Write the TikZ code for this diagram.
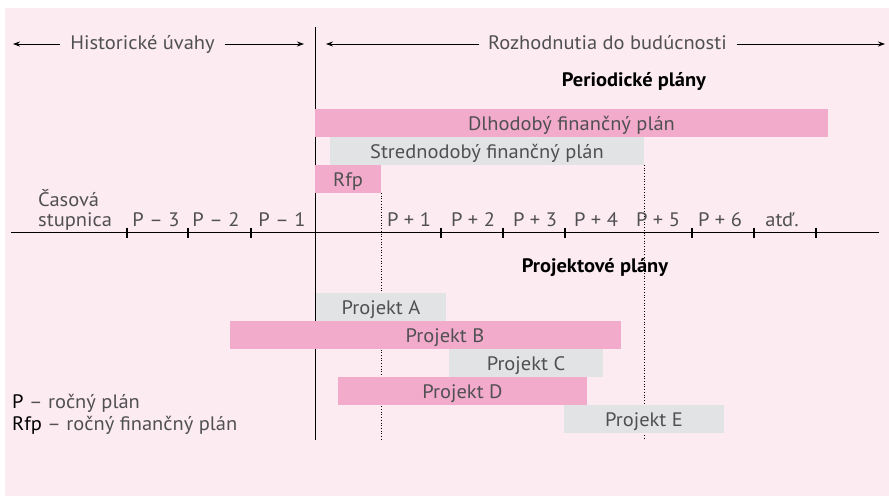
\documentclass[tikz,border=0pt]{standalone}
\usepackage{fontspec}
\setmainfont[FakeStretch=1.05]{PT Sans}
\usetikzlibrary{arrows.meta}
\definecolor{bgpink}{HTML}{FCEBF1}
\definecolor{barpink}{HTML}{F3ABCB}
\definecolor{bargray}{HTML}{E2E3E4}
\definecolor{txt}{HTML}{505052}
\begin{document}
\begin{tikzpicture}[x=1pt,y=-1pt,
  font=\fontsize{19.5}{21}\selectfont,
  lbl/.style={text=txt, inner sep=0pt},
  headline/.style={text=black, inner sep=0pt, font=\fontsize{19.5}{21}\selectfont\bfseries},
  bar/.style={inner sep=0pt, outer sep=0pt, minimum height=28pt, anchor=north west,
    text=txt, text height=16pt, text depth=1pt},
  pinkbar/.style={bar, fill=barpink},
  graybar/.style={bar, fill=bargray},
  span/.style={line width=0.8pt, -{Stealth[length=7pt,width=5pt]}},
  guide/.style={line width=0.9pt, dash pattern=on 0.9pt off 1.8pt},
  tick/.style={line width=1.2pt}
]
\useasboundingbox (0,0) rectangle (889,496);
\fill[bgpink] (5,8) rectangle (889,496);

% header arrows
\node[lbl, anchor=base] (hist) at (142.5,49) {Historické úvahy};
\node[lbl, anchor=base] (fut) at (607.5,49) {Rozhodnutia do budúcnosti};
\coordinate (hl) at (13,44);
\coordinate (hr) at (304,44);
\coordinate (fl) at (326,44);
\coordinate (fr) at (885,44);
\draw[span] (hist.west |- hl) ++(-10,0) -- (hl);
\draw[span] (hist.east |- hr) ++(10,0) -- (hr);
\draw[span] (fut.west |- fl) ++(-9,0) -- (fl);
\draw[span] (fut.east |- fr) ++(10,0) -- (fr);

% present
\draw[line width=0.9pt] (315,27) -- (315,440);

% periodic plans
\node[headline, anchor=base] (per) at (634,86) {Periodické plány};
\node[pinkbar, minimum width=513pt] (dlh) at (315,109) {Dlhodobý finančný plán};
\node[graybar, minimum width=314pt] (str) at (330,137) {Strednodobý finančný plán};
\node[pinkbar, minimum width=66pt] (rfp) at (315,165) {Rfp};

% guides
\draw[guide] (rfp.south east) -- (rfp.south east |- 0,440);
\draw[guide] (str.south east) -- (str.south east |- 0,440);

% time scale
\draw[line width=0.9pt] (11,232.5) -- (879,232.5);
\foreach \t in {127,188,251,441,503,565,692,754,816}
  \draw[tick] (\t,227.5) -- (\t,237.5);
\node[lbl, anchor=base west] (cas) at (38,206) {Časová};
\node[lbl, anchor=base west] (stup) at (38,226) {stupnica};
\foreach \x/\s/\n in {156/P – 3/m3, 216/P – 2/m2, 282/P – 1/m1, 409/P + 1/p1,
  473/P + 2/p2, 535/P + 3/p3, 596/P + 4/p4, 658/P + 5/p5, 720/P + 6/p6, 782/atď./etc}
  \node[lbl, anchor=base] (t\n) at (\x,226) {\s};

% project plans
\node[headline, anchor=base] (proj) at (595,272) {Projektové plány};
\node[graybar, minimum width=130pt] (pa) at (316,293) {Projekt A};
\node[pinkbar, minimum width=391pt] (pb) at (230,321) {};
\node[lbl, text height=16pt, text depth=1pt] (pbt) at (445,335) {Projekt B};
\node[graybar, minimum width=154pt] (pc) at (449,349) {Projekt C};
\node[pinkbar, minimum width=249pt] (pd) at (338,377) {Projekt D};
\node[graybar, minimum width=160pt] (pe) at (564,405) {Projekt E};

% legend
\node[lbl, anchor=base west] (lg1) at (12,408) {\textcolor{black}{P} – ročný plán};
\node[lbl, anchor=base west] (lg2) at (12,430) {\textcolor{black}{Rfp} – ročný finančný plán};
\end{tikzpicture}
\end{document}
